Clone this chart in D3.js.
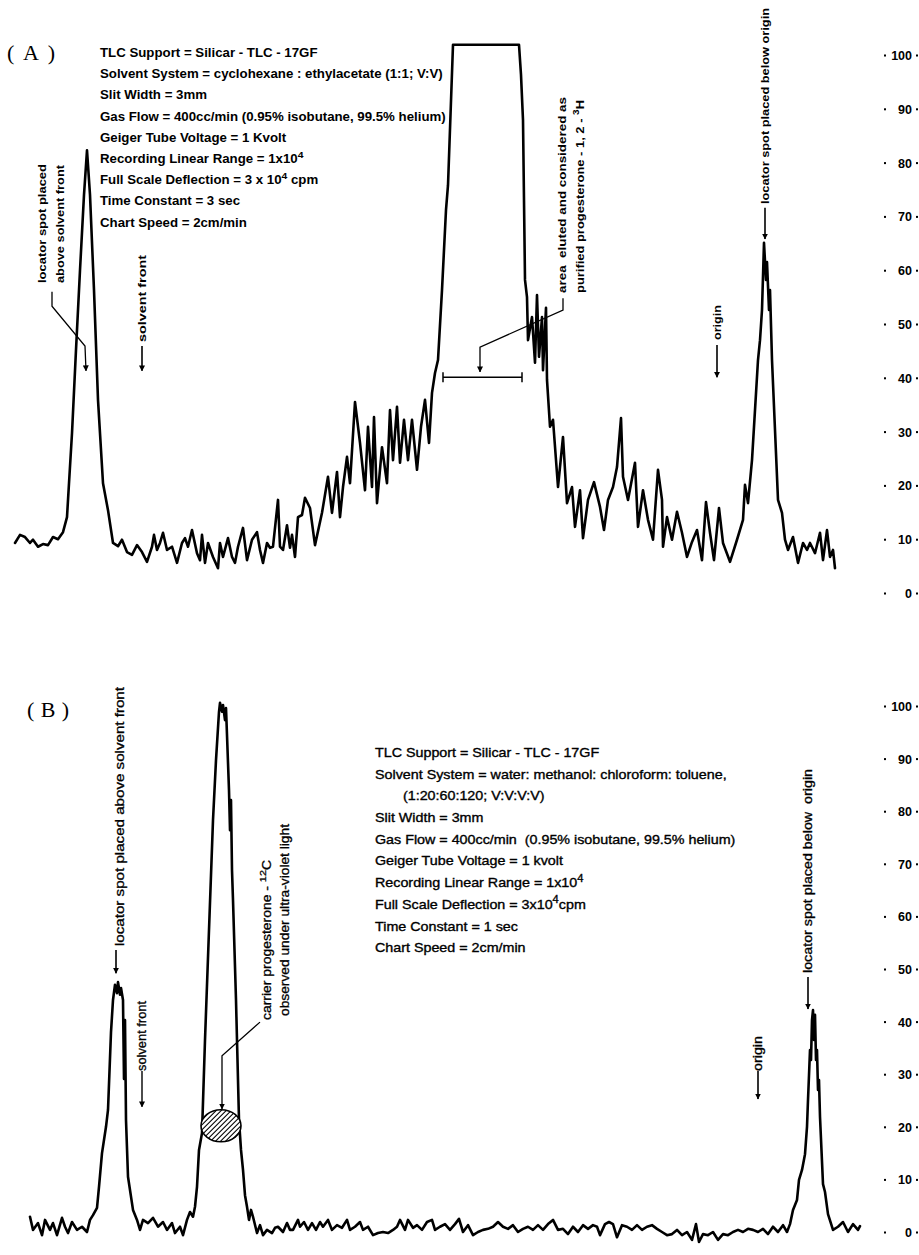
<!DOCTYPE html>
<html><head><meta charset="utf-8">
<script src="https://cdn.jsdelivr.net/npm/d3@7"></script>
<style>html,body{margin:0;padding:0;background:#fff}svg{display:block}text{white-space:pre}</style>
</head><body>
<svg id="c" width="919" height="1255"></svg>
<script>
// ---------------- DATA ----------------
const tickValues = [0,10,20,30,40,50,60,70,80,90,100];
const tickLabels = ["0","10","20","30","40","50","60","70","80","90","100"];

// Panel A scan: [position along scan (cm), recorder deflection (% full scale)]
const scanA = [[0.0,9.3],[0.5,10.8],[1.0,10.4],[1.5,9.3],[1.8,9.9],[2.3,8.6],[2.8,9.1],[3.3,8.9],[3.8,10.4],[4.3,10.0],[4.8,11.3],[5.2,14.1],[5.4,20.4],[5.7,29.7],[6.1,45.2],[6.5,60.0],[6.9,74.0],[7.2,82.3],[7.5,74.0],[7.9,56.3],[8.3,35.9],[8.8,20.4],[9.3,15.4],[9.8,9.3],[10.3,8.7],[10.7,9.9],[11.2,7.6],[11.7,7.1],[12.2,8.9],[12.7,7.6],[13.2,5.8],[13.7,8.6],[13.9,10.8],[14.2,8.0],[14.5,9.3],[14.8,11.2],[15.2,8.0],[15.7,8.6],[16.2,5.6],[16.7,9.3],[17.0,10.2],[17.3,8.6],[17.7,11.7],[18.2,7.4],[18.5,6.1],[18.7,10.8],[19.0,5.6],[19.3,9.3],[19.8,6.7],[20.3,4.6],[20.5,9.3],[20.8,6.7],[21.3,10.2],[21.7,6.7],[22.0,5.6],[22.3,8.6],[22.8,12.1],[23.2,6.1],[23.7,9.9],[24.2,11.3],[24.5,8.0],[24.8,5.6],[25.2,9.3],[25.5,8.4],[25.8,8.6],[26.3,17.3],[26.5,8.6],[26.8,8.0],[27.2,12.6],[27.5,8.4],[27.7,10.8],[28.0,6.7],[28.3,14.1],[28.7,14.5],[29.0,17.7],[29.5,15.8],[30.0,8.9],[30.7,14.9],[31.3,21.6],[31.7,14.9],[32.2,22.5],[32.5,14.1],[32.8,19.7],[33.2,25.3],[33.5,20.4],[34.0,35.5],[34.5,27.9],[35.0,19.1],[35.3,30.9],[35.7,19.7],[35.9,32.7],[36.2,16.7],[36.7,27.1],[37.2,20.4],[37.5,34.0],[37.8,24.7],[38.2,34.6],[38.5,24.2],[38.9,32.2],[39.3,24.7],[39.7,32.2],[40.2,22.9],[40.6,30.9],[41.0,35.9],[41.4,27.9],[41.7,37.2],[42.0,40.9],[42.3,43.3],[42.7,56.3],[43.1,71.2],[43.3,75.8],[43.8,101.9],[50.4,101.9],[50.6,96.3],[50.8,87.9],[50.9,73.0],[51.0,58.2],[51.2,55.0],[51.3,47.0],[51.7,51.3],[52.0,42.8],[52.2,55.4],[52.4,43.9],[52.7,51.3],[52.8,41.4],[53.1,53.0],[53.2,39.6],[53.5,30.9],[53.8,32.2],[54.3,19.7],[54.8,29.0],[55.2,16.7],[55.7,19.7],[56.0,12.3],[56.5,19.1],[56.8,10.2],[57.3,17.3],[57.9,20.6],[58.5,16.0],[58.9,11.7],[59.3,17.3],[59.8,19.7],[60.2,23.4],[60.6,32.5],[60.8,21.6],[61.3,17.3],[62.0,24.2],[62.3,12.3],[62.8,19.1],[63.3,13.6],[63.8,9.9],[64.3,22.9],[64.7,17.3],[64.8,8.6],[65.2,14.1],[65.7,9.9],[66.2,15.1],[66.7,11.2],[67.2,6.7],[67.7,9.5],[68.2,11.7],[68.7,6.1],[69.1,16.9],[69.5,11.2],[69.9,6.1],[70.4,15.8],[70.8,9.3],[71.5,5.8],[72.2,9.9],[72.8,13.6],[73.0,20.1],[73.3,16.7],[73.7,24.7],[74.0,34.0],[74.3,43.3],[74.5,47.0],[74.7,52.6],[74.9,65.1],[75.1,58.2],[75.2,61.5],[75.4,52.6],[75.5,56.3],[75.7,43.3],[76.0,30.3],[76.3,17.3],[76.7,14.9],[77.0,9.9],[77.3,8.0],[77.8,10.4],[78.3,5.6],[78.8,9.3],[79.2,8.0],[79.5,9.3],[80.0,7.4],[80.5,11.2],[80.8,6.1],[81.2,11.7],[81.5,6.7],[81.8,8.0],[82.0,4.6]];

// Panel B scan
const scanB = [[0,2.9],[0.3,0.4],[0.8,1.7],[1.2,-0.6],[1.5,2.3],[2.0,0.4],[2.3,1.7],[2.7,-0.6],[3.2,2.7],[3.5,1.0],[3.8,-0.2],[4.2,1.9],[4.7,0.4],[5.2,1.0],[5.7,0],[6.0,2.3],[6.3,3.2],[6.7,4.6],[6.9,8.6],[7.2,15.0],[7.6,20.0],[7.8,23.2],[8.1,38.0],[8.3,44.1],[8.5,47.0],[8.7,45.4],[8.8,47.5],[9.0,45.1],[9.1,46.4],[9.3,44.1],[9.4,29.1],[9.5,40.3],[9.6,21.3],[9.8,10.5],[10.3,4.2],[10.7,2.3],[11.0,0.4],[11.3,2.3],[11.8,1.7],[12.3,2.7],[12.8,1.0],[13.3,1.9],[13.7,0.4],[14.2,1.7],[14.5,-0.2],[15.0,1.0],[15.3,-0.6],[15.7,2.3],[16.0,3.8],[16.3,2.9],[16.5,4.8],[16.7,8.6],[16.9,15.6],[17.2,18.8],[17.5,36.5],[17.9,57.4],[18.3,78.3],[18.6,89.7],[18.9,98.9],[19.0,100.6],[19.2,98.9],[19.3,100.2],[19.5,97.3],[19.6,99.6],[19.7,94.5],[19.9,84.0],[20.0,76.4],[20.1,82.1],[20.2,68.8],[20.3,63.1],[20.6,44.1],[20.9,21.3],[21.1,15.6],[21.3,11.8],[21.5,7.0],[21.7,4.8],[21.9,2.3],[22.1,4.2],[22.3,2.9],[22.7,-0.2],[23.0,1.3],[23.3,-0.6],[23.7,0.4],[24.2,-0.2],[24.5,0.8],[24.8,1.0],[25.3,0],[25.7,1.7],[26.0,0.4],[26.3,0.4],[26.8,2.3],[27.0,1.0],[27.4,1.9],[27.8,0.4],[28.2,1.7],[28.6,0.4],[29.0,1.9],[29.3,1.0],[29.8,2.3],[30.2,0.4],[30.7,1.3],[31.2,0.8],[31.7,2.3],[32.0,0.4],[32.5,1.0],[33.0,1.9],[33.3,0.4],[33.8,1.0],[34.3,-0.6],[34.8,-0.2],[35.3,0],[35.8,-0.2],[36.3,0.4],[36.7,1.0],[37.0,2.3],[37.5,0.4],[37.8,2.3],[38.3,0.8],[38.7,1.3],[39.2,0.4],[39.7,1.9],[40.2,2.3],[40.5,0.4],[41.0,1.0],[41.5,1.5],[42.0,0.4],[42.5,1.5],[42.9,2.5],[43.3,0],[43.8,1.3],[44.3,-0.6],[44.8,0],[45.3,0.4],[45.8,0.6],[46.3,1.0],[46.8,1.9],[47.3,1.0],[47.8,0.6],[48.3,1.3],[48.8,0],[49.3,0.6],[49.8,1.0],[50.3,0.4],[50.8,1.3],[51.3,0.4],[51.8,1.5],[52.3,2.3],[52.8,0.4],[53.3,0.6],[53.8,-0.4],[54.3,1.0],[54.8,0],[55.3,1.3],[55.8,0.6],[56.3,1.3],[56.7,1.0],[57.0,-0.6],[57.5,1.5],[57.9,1.9],[58.3,1.5],[58.7,-1.0],[59.2,1.3],[59.7,1.0],[60.2,0.4],[60.7,1.3],[61.2,0.4],[61.7,1.0],[62.2,1.3],[62.7,0.6],[63.2,0],[63.7,-0.6],[64.2,-0.4],[64.7,0.4],[65.2,-0.6],[65.7,0],[66.2,-1.5],[66.6,1.5],[66.9,-1.9],[67.3,-0.4],[67.8,-0.6],[68.3,0],[68.8,-1.5],[69.3,-0.4],[69.8,-0.6],[70.3,0],[70.8,0.4],[71.3,0],[71.8,0.6],[72.3,0.4],[72.8,0],[73.3,0.6],[73.8,-0.4],[74.3,1.0],[74.8,0],[75.3,1.3],[75.7,0],[76.0,1.5],[76.3,4.2],[76.7,6.1],[76.9,9.9],[77.2,11.8],[77.5,14.8],[77.7,20.0],[77.8,25.1],[77.9,29.8],[78.0,34.6],[78.1,32.7],[78.2,40.3],[78.3,42.2],[78.4,36.5],[78.5,41.3],[78.6,32.7],[78.7,34.6],[78.8,27.0],[78.9,28.9],[79.0,21.9],[79.3,9.1],[79.5,7.6],[79.8,3.4],[80.3,0.4],[80.8,1.0],[81.3,1.9],[81.8,0],[82.3,1.5],[82.8,0.4],[83.0,1.1]];

const infoA = [
  "TLC Support = Silicar - TLC - 17GF",
  "Solvent System = cyclohexane : ethylacetate (1:1; V:V)",
  "Slit Width = 3mm",
  "Gas Flow = 400cc/min (0.95% isobutane, 99.5% helium)",
  "Geiger Tube Voltage = 1 Kvolt",
  "Recording Linear Range = 1x10^{4}",
  "Full Scale Deflection = 3 x 10^{4} cpm",
  "Time Constant = 3 sec",
  "Chart Speed = 2cm/min"
];
const infoB = [
  "TLC Support = Silicar - TLC - 17GF",
  "Solvent System = water: methanol: chloroform: toluene,",
  "(1:20:60:120; V:V:V:V)",
  "Slit Width = 3mm",
  "Gas Flow = 400cc/min  (0.95% isobutane, 99.5% helium)",
  "Geiger Tube Voltage = 1 kvolt",
  "Recording Linear Range = 1x10^{4}",
  "Full Scale Deflection = 3x10^{4}cpm",
  "Time Constant = 1 sec",
  "Chart Speed = 2cm/min"
];

// ---------------- DRAWING ----------------
const SANS = "'Liberation Sans', Arial, Helvetica, sans-serif";
const SERIF = "'Liberation Serif', 'Times New Roman', serif";
const svg = d3.select('#c');
svg.append('rect').attr('width',919).attr('height',1255).attr('fill','#fff');

const defs = svg.append('defs');
defs.append('marker').attr('id','ah').attr('viewBox','0 0 10 10')
  .attr('refX',9).attr('refY',5).attr('markerUnits','userSpaceOnUse')
  .attr('markerWidth',6).attr('markerHeight',8).attr('orient','auto')
  .append('path').attr('d','M0,0L10,5L0,10z').attr('fill','#000');

const xA = d3.scaleLinear().domain([0,82]).range([15,835]);
const yA = d3.scaleLinear().domain([0,100]).range([593,55]);
const xB = d3.scaleLinear().domain([0,83]).range([30,860]);
const yB = d3.scaleLinear().domain([0,100]).range([1232,706]);

function rich(t, str, fs){
  const parts = str.split(/\^\{([^}]*)\}/);
  let shifted = false;
  parts.forEach((p,i)=>{
    if(p==='') return;
    const ts = t.append('tspan').text(p);
    if(i%2===1){ ts.attr('dy', -fs*0.42).attr('font-size', fs*0.78); shifted = true; }
    else if(shifted){ ts.attr('dy', fs*0.42); shifted=false; }
  });
  return t;
}

function trace(data, x, y, w){
  svg.append('path').datum(data)
    .attr('d', d3.line().x(d=>x(d[0])).y(d=>y(d[1])))
    .attr('fill','none').attr('stroke','#000').attr('stroke-width',w)
    .attr('stroke-linejoin','round').attr('stroke-linecap','round');
}

function axis(y, xPos){
  const g = svg.append('g').attr('transform',`translate(${xPos},0)`)
    .call(d3.axisLeft(y).tickValues(tickValues).tickSize(0).tickPadding(0)
      .tickFormat((d,i)=>tickLabels[i]));
  g.select('.domain').remove();
  g.selectAll('text').attr('font-family',SANS).attr('font-weight','bold')
    .attr('font-size',12.5).attr('fill','#000').attr('dy','0.36em');
  g.selectAll('.tick').each(function(){
    d3.select(this).append('rect').attr('x',-28).attr('y',-1).attr('width',2).attr('height',2).attr('fill','#000');
    d3.select(this).append('rect').attr('x',4).attr('y',-1).attr('width',2).attr('height',2).attr('fill','#000');
  });
}

function infoBlock(lines, x0, y0, dy, fs, weight, target, refIdx, indent, strokeW){
  const g = svg.append('g');
  const texts = [];
  lines.forEach((s,i)=>{
    const t = g.append('text').attr('x', (indent && indent[i]) ? indent[i] : 0).attr('y', y0 + i*dy)
      .attr('font-family',SANS).attr('font-weight',weight).attr('font-size',fs).attr('fill','#000');
    if(strokeW) t.attr('stroke','#000').attr('stroke-width',strokeW);
    rich(t, s, fs);
    texts.push(t);
  });
  const w = texts[refIdx].node().getComputedTextLength();
  const k = target / w;
  texts.forEach((t,i)=>{ if(indent && indent[i]) t.attr('x', indent[i]/k); });
  g.attr('transform',`translate(${x0},0) scale(${k},1)`);
}

function vtext(cx, yStart, str, len, fs, weight, strokeW){
  const t = svg.append('text').attr('transform',`translate(${cx+fs*0.36},${yStart}) rotate(-90)`)
    .attr('font-family',SANS).attr('font-weight',weight).attr('font-size',fs).attr('fill','#000');
  if(strokeW) t.attr('stroke','#000').attr('stroke-width',strokeW);
  rich(t, str, fs);
  if(len) t.attr('textLength',len).attr('lengthAdjust','spacingAndGlyphs');
}

function leader(pts, arrow, w){
  const p = svg.append('path').attr('d', d3.line()(pts)).attr('fill','none')
    .attr('stroke','#000').attr('stroke-width', w||1.3);
  if(arrow) p.attr('marker-end','url(#ah)');
}

// ---------- Panel A ----------
svg.append('text').attr('x',7).attr('y',60).attr('font-family',SERIF).attr('font-size',22)
  .attr('textLength',48).attr('lengthAdjust','spacing').text('(A)');
infoBlock(infoA, 100, 57, 21.2, 12.5, 'bold', 343, 1, null, 0);
trace(scanA, xA, yA, 2.6);
axis(yA, 912);

vtext(42, 283, 'locator spot placed', 119, 11, 'bold');
vtext(60, 283, 'above solvent front', 118, 11, 'bold');
leader([[xA(3.7),yA(56)],[xA(3.7),yA(53.3)],[xA(7.0),yA(45.9)],[xA(7.1),yA(41.3)]], true);

vtext(142, 342, 'solvent front', 87, 11, 'bold');
leader([[xA(12.7),yA(45.9)],[xA(12.7),yA(41.3)]], true, 1.6);

vtext(562, 293, 'area  eluted and considered as', 196, 11, 'bold');
vtext(580, 293, 'purified progesterone - 1, 2 - ^{3}H', 193, 11, 'bold');
leader([[xA(54.8),yA(54.8)],[xA(54.8),yA(52.6)],[xA(46.5),yA(45.7)],[xA(46.5),yA(41.1)]], true);
// eluted-area bar
leader([[xA(42.8),yA(40.1)],[xA(50.7),yA(40.1)]], false, 1.5);
leader([[xA(42.8),yA(40.1)-5],[xA(42.8),yA(40.1)+5]], false, 1.5);
leader([[xA(50.7),yA(40.1)-5],[xA(50.7),yA(40.1)+5]], false, 1.5);

vtext(717, 340, 'origin', 35, 11, 'bold');
leader([[xA(70.2),yA(46.1)],[xA(70.2),yA(40.1)]], true, 1.6);

vtext(765, 204, 'locator spot placed below origin', 196, 11, 'bold');
leader([[xA(75.0),yA(71.6)],[xA(75.0),yA(65.8)]], true, 1.6);

// ---------- Panel B ----------
svg.append('text').attr('x',27).attr('y',717).attr('font-family',SERIF).attr('font-size',22)
  .attr('textLength',42).attr('lengthAdjust','spacing').text('(B)');
infoBlock(infoB, 375, 757, 21.7, 13, 'normal', 352, 1, {2:28}, 0.35);
trace(scanB, xB, yB, 2.6);
axis(yB, 912);

vtext(120, 946, 'locator spot placed above solvent front', 259, 12, 'normal', 0.3);
leader([[xB(8.6),yB(53.6)],[xB(8.6),yB(49.2)]], true, 1.6);

vtext(142, 1071, 'solvent front', 70, 12, 'normal', 0.3);
leader([[xB(11.2),yB(30.6)],[xB(11.2),yB(23.8)]], true, 1.4);

vtext(267, 1020, 'carrier progesterone - ^{12}C', 160, 12, 'normal', 0.3);
vtext(285, 1016, 'observed under ultra-violet light', 192, 12, 'normal', 0.3);
leader([[xB(23.0),yB(39.9)],[xB(19.2),yB(33.5)],[xB(19.2),yB(23.4)]], true);

// hatched spot
const ecx = xB(19.1), ecy = yB(20.2), erx = 20, ery = 16;
defs.append('clipPath').attr('id','eclip').append('ellipse')
  .attr('cx',ecx).attr('cy',ecy).attr('rx',erx).attr('ry',ery);
svg.append('ellipse').attr('cx',ecx).attr('cy',ecy).attr('rx',erx).attr('ry',ery).attr('fill','#fff');
const hg = svg.append('g').attr('clip-path','url(#eclip)');
d3.range(-9,10).forEach(i=>{
  hg.append('line').attr('x1',ecx+i*5-18).attr('y1',ecy+18).attr('x2',ecx+i*5+18).attr('y2',ecy-18)
    .attr('stroke','#000').attr('stroke-width',1.1);
});
svg.append('ellipse').attr('cx',ecx).attr('cy',ecy).attr('rx',erx).attr('ry',ery)
  .attr('fill','none').attr('stroke','#000').attr('stroke-width',1.6);

vtext(758, 1071, 'origin', 35, 12, 'normal', 0.3);
leader([[xB(72.8),yB(30.6)],[xB(72.8),yB(25.3)]], true, 1.6);

vtext(808, 973, 'locator spot placed below  origin', 204, 12, 'normal', 0.3);
leader([[xB(77.8),yB(48.5)],[xB(77.8),yB(42.4)]], true, 1.6);
</script>
</body></html>
